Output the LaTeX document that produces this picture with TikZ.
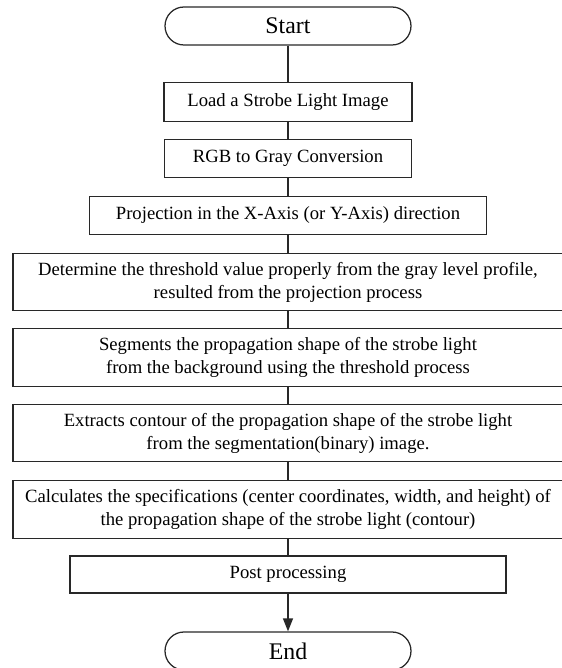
\documentclass[tikz,border=0pt]{standalone}
\usepackage{fontspec}
\setmainfont{Liberation Serif}
\usepackage{tikz}
\usetikzlibrary{arrows.meta}
\definecolor{linegray}{RGB}{40,40,40}

\begin{document}
\begin{tikzpicture}[
      x=0.6pt, y=0.6pt,
      stepbox/.style={draw=linegray, line width=0.75pt, align=center, inner xsep=2pt, inner ysep=0pt,
        font=\fontsize{11.2pt}{13.8pt}\selectfont, minimum height=23pt},
      widebox/.style={stepbox, minimum width=330pt, minimum height=34.5pt},
      term/.style={draw=linegray, line width=0.75pt, rounded corners=11.4pt, minimum width=147.6pt,
        minimum height=22.8pt, inner sep=0pt, font=\fontsize{14.3pt}{16pt}\selectfont},
      link/.style={draw=linegray, line width=0.75pt}
    ]
      \useasboundingbox (0,0) rectangle (561,668);

      % terminals
      \node[term] (start) at (288,642) {Start};
      \node[term] (end) at (288,17) {End};

      % processing steps
      \node[stepbox, minimum width=148.8pt] (load) at (288,566) {Load a Strobe Light Image};
      \node[stepbox, minimum width=148.2pt] (rgb) at (288,509.5) {RGB to Gray Conversion};
      \node[stepbox, minimum width=238.2pt] (proj) at (288,452.5) {Projection in the X-Axis (or Y-Axis) direction};
      \node[widebox] (thresh) at (288,386)
        {Determine the threshold value properly from the gray level profile,\\ resulted from the projection process};
      \node[widebox] (segm) at (288,310.5)
        {Segments the propagation shape of the strobe light\\ from the background using the threshold process};
      \node[widebox] (contour) at (288,235)
        {Extracts contour of the propagation shape of the strobe light\\ from the segmentation(binary) image.};
      \node[widebox] (specs) at (288,158.5)
        {Calculates the specifications (center coordinates, width, and height) of\\ the propagation shape of the strobe light (contour)};
      \node[stepbox, minimum width=261.6pt, minimum height=22.2pt] (post) at (288,93.5) {Post processing};

      % connectors
      \foreach \a/\b in {start/load, load/rgb, rgb/proj, proj/thresh, thresh/segm, segm/contour, contour/specs, specs/post}
        \draw[link] (\a) -- (\b);
      \draw[link, -{Triangle[length=7.8pt, width=6pt]}] (post) -- (end);
    \end{tikzpicture}
\end{document}
